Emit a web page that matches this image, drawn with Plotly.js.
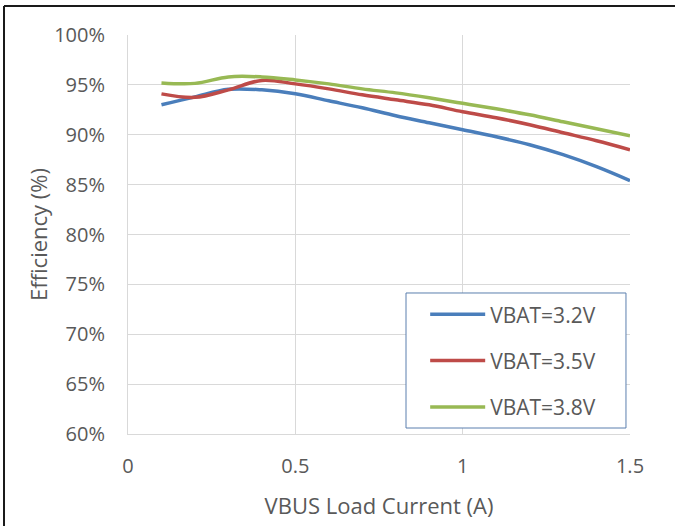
<!DOCTYPE html>
<html>
<head>
<meta charset="utf-8">
<script src="https://cdn.plot.ly/plotly-3.0.1.min.js"></script>
<style>
  html, body { margin: 0; padding: 0; background: #fff; }
  #chart { width: 675px; height: 526px; }
</style>
</head>
<body>
<div id="chart"></div>
<script>
const loadCurrent = [0.1, 0.2, 0.3, 0.4, 0.5, 0.6, 0.7, 0.8, 0.9, 1.0, 1.1, 1.2, 1.3, 1.4, 1.5];
const effVbat32 = [0.930, 0.938, 0.9455, 0.945, 0.941, 0.934, 0.927, 0.919, 0.912, 0.905, 0.898, 0.890, 0.880, 0.868, 0.854];
const effVbat35 = [0.941, 0.9375, 0.945, 0.9545, 0.951, 0.946, 0.940, 0.935, 0.930, 0.923, 0.917, 0.910, 0.902, 0.894, 0.885];
const effVbat38 = [0.952, 0.9515, 0.958, 0.958, 0.955, 0.951, 0.946, 0.942, 0.937, 0.9315, 0.926, 0.920, 0.913, 0.906, 0.899];
const seriesNames = ['VBAT=3.2V', 'VBAT=3.5V', 'VBAT=3.8V'];
const seriesColors = ['#4a7ebb', '#be4b48', '#98b954'];
const yTickVals = [0.60, 0.65, 0.70, 0.75, 0.80, 0.85, 0.90, 0.95, 1.00];
const xTickVals = [0, 0.5, 1, 1.5];

const font = '"Open Sans", "Liberation Sans", sans-serif';
const gray = '#595959';

const allY = [effVbat32, effVbat35, effVbat38];
const traces = allY.map((ys, i) => ({
  x: loadCurrent,
  y: ys,
  type: 'scatter',
  mode: 'lines',
  name: seriesNames[i],
  legendgroup: 'g' + i,
  line: { color: seriesColors[i], width: 3.5, shape: 'spline', smoothing: 1 }
}));

const layout = {
  width: 675,
  height: 526,
  margin: { l: 128, r: 45, t: 35, b: 92, pad: 0 },
  paper_bgcolor: '#ffffff',
  plot_bgcolor: '#ffffff',
  font: { family: font, color: gray, size: 20 },
  xaxis: {
    range: [0, 1.5],
    tickvals: xTickVals,
    ticktext: xTickVals.map(String),
    showgrid: true,
    gridcolor: '#d9d9d9',
    gridwidth: 1,
    zeroline: false,
    showline: true,
    linecolor: '#d9d9d9',
    linewidth: 1,
    ticks: '',
    ticklabelstandoff: 14,
    tickfont: { family: font, size: 20, color: gray },
    title: { text: 'VBUS Load Current (A)', font: { family: font, size: 22, color: gray }, standoff: 20 },
    fixedrange: true
  },
  yaxis: {
    range: [0.6, 1.0],
    tickvals: yTickVals,
    tickformat: '.0%',
    showgrid: true,
    gridcolor: '#d9d9d9',
    gridwidth: 1,
    zeroline: false,
    showline: true,
    linecolor: '#d9d9d9',
    linewidth: 1,
    ticks: '',
    ticklabelstandoff: 18,
    tickfont: { family: font, size: 20, color: gray },
    title: { text: 'Efficiency (%)', font: { family: font, size: 22, color: gray }, standoff: 0 },
    fixedrange: true
  },
  showlegend: true,
  legend: {
    x: 0.59,
    y: 0.353,
    xanchor: 'left',
    yanchor: 'top',
    bgcolor: 'rgba(0,0,0,0)',
    bordercolor: 'rgba(0,0,0,0)',
    borderwidth: 1,
    font: { family: font, size: 21, color: gray },
    traceorder: 'grouped',
    tracegroupgap: 16,
    itemwidth: 55
  },
  shapes: [
    { type: 'rect', xref: 'paper', yref: 'paper', x0: 0.5538, x1: 0.992, y0: 0.015, y1: 0.3534,
      fillcolor: '#ffffff', line: { color: '#5b7fae', width: 1 }, layer: 'above' },
    { type: 'line', xref: 'paper', yref: 'paper', x0: -0.247, x1: 1.1, y0: 1.0727, y1: 1.0727, line: { color: '#1a1a1a', width: 2 } },
    { type: 'line', xref: 'paper', yref: 'paper', x0: -0.247, x1: -0.247, y0: 1.0727, y1: -0.3, line: { color: '#1a1a1a', width: 2 } }
  ]
};

Plotly.newPlot('chart', traces, layout, { displayModeBar: false, staticPlot: true });
</script>
</body>
</html>
